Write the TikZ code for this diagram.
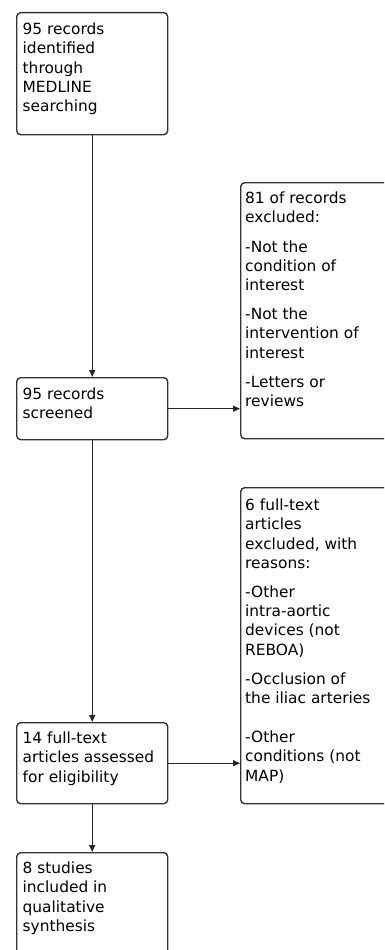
\documentclass[tikz,border=0pt]{standalone}
\usepackage{fontspec}
\setmainfont{DejaVu Sans}
\usetikzlibrary{arrows.meta}
\newcommand\flowtext[5]{\parbox[c][#2][t]{#1}{\fontsize{15.4pt}{19.2pt}\selectfont\raggedright\setlength\leftskip{#3}\rule{0pt}{#4}#5}}
\begin{document}
\begin{tikzpicture}[x=1pt,y=-1pt,
  box/.style={draw=black!80, line width=1.4pt, rounded corners=4pt, inner sep=0pt, anchor=north west},
  arr/.style={draw=black!85, line width=1.3pt, -{Triangle[length=7pt,width=6pt]}}]
\useasboundingbox (0,0) rectangle (384,950);
\clip (0,0) rectangle (384,950);
\node[box] (b1) at (16,12) {\flowtext{151pt}{122pt}{6pt}{22pt}{95 records\\identified\\through\\MEDLINE\\searching}};
\node[box] (b2) at (16,377) {\flowtext{151pt}{62pt}{6pt}{22pt}{95 records\\screened}};
\node[box] (b3) at (16,722) {\flowtext{151pt}{81pt}{6pt}{21pt}{14 full-text\\articles assessed\\for eligibility}};
\node[box] (b4) at (16,852) {\flowtext{151pt}{125pt}{6pt}{21pt}{8 studies\\included in\\qualitative\\synthesis}};
\node[box] (r1) at (240,182) {\flowtext{152pt}{256pt}{4.5pt}{21pt}{81 of records\\excluded:\\[10pt]-Not the\\condition of\\interest\\[10pt]-Not the\\intervention of\\interest\\[10pt]-Letters or\\reviews}};
\node[box] (r2) at (240,487) {\flowtext{152pt}{316pt}{4.5pt}{23pt}{6 full-text\\articles\\excluded, with\\reasons:\\[10pt]-Other\\intra-aortic\\devices (not\\REBOA)\\[10pt]-Occlusion of\\the iliac arteries\\[20pt]-Other\\conditions (not\\MAP)}};
\draw[arr] (b1) -- (b2);
\draw[arr] (b2) -- (b3);
\draw[arr] (b3) -- (b4);
\draw[arr] (b2.east) -- (b2.east -| r1.west);
\draw[arr] (b3.east) -- (b3.east -| r2.west);
\end{tikzpicture}
\end{document}
